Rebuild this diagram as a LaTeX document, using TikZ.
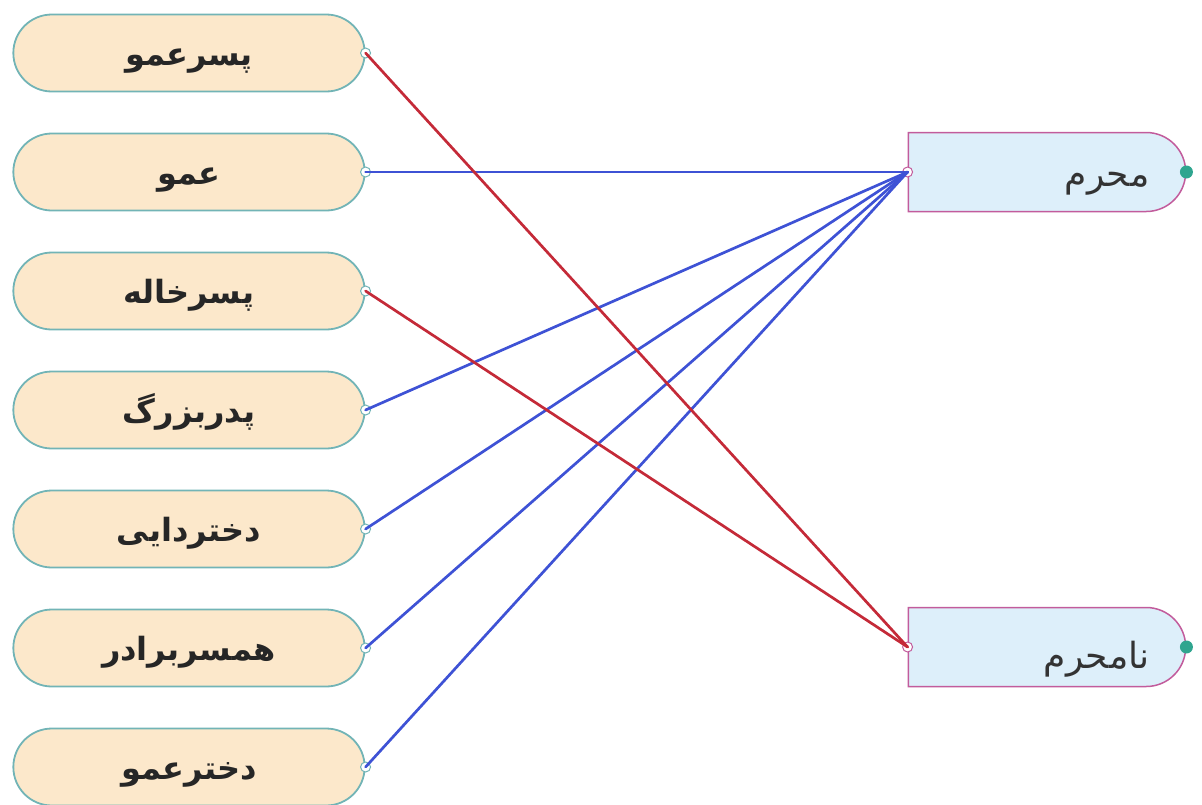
\documentclass[tikz,border=0pt]{standalone}
\usepackage{fontspec}
\usetikzlibrary{shapes.misc}
\TeXXeTstate=1
\newfontfamily\fa[Script=Arabic]{DejaVu Sans}
\definecolor{pillfill}{HTML}{FCE8CB}
\definecolor{pillline}{HTML}{72B4B6}
\definecolor{tagfill}{HTML}{DDEFFA}
\definecolor{tagline}{HTML}{C25C9C}
\definecolor{redlink}{HTML}{C42A38}
\definecolor{bluelink}{HTML}{3E52D5}
\definecolor{knob}{HTML}{2FA58F}
\begin{document}
\begin{tikzpicture}[x=1pt,y=-1pt,
  pill/.style={rounded rectangle, draw=pillline, fill=pillfill, line width=1.8pt,
    minimum width=358pt, minimum height=77pt, text height=24pt, text depth=0pt,
    font=\fa\bfseries\fontsize{32}{36}\selectfont, text=black!85},
  tag/.style={rounded rectangle, rounded rectangle left arc=none, draw=tagline,
    fill=tagfill, line width=1.5pt, minimum width=284pt, minimum height=79pt},
  tagtext/.style={font=\fa\fontsize{36}{40}\selectfont, text=black!80},
  lport/.style={circle, draw=pillline, fill=white, line width=1pt, inner sep=0pt, minimum size=10pt},
  rport/.style={circle, draw=tagline, fill=white, line width=1pt, inner sep=0pt, minimum size=10pt},
  knobdot/.style={circle, fill=knob, inner sep=0pt, minimum size=13pt},
  link/.style={line width=2.7pt, line cap=round},
]
\useasboundingbox (0,0) rectangle (1202,804);

% left column
\node[pill] (a1) at (189,53)  {\beginR پسرعمو\endR};
\node[pill] (a2) at (189,172) {\beginR عمو\endR};
\node[pill] (a3) at (189,291) {\beginR پسرخاله\endR};
\node[pill] (a4) at (189,410) {\beginR پدربزرگ\endR};
\node[pill] (a5) at (189,529) {\beginR دختردایی\endR};
\node[pill] (a6) at (189,648) {\beginR همسربرادر\endR};
\node[pill] (a7) at (189,767) {\beginR دخترعمو\endR};

% right column
\node[tag] (m) at (1047,172) {};
\node[tagtext, anchor=east] (mt) at (1153,184) {\beginR محرم\endR};
\node[tag] (n) at (1047,647) {};
\node[tagtext, anchor=east] (nt) at (1153,659) {\beginR نامحرم\endR};
\node[knobdot] (mk) at (m.east) {};
\node[knobdot] (nk) at (n.east) {};

% connection ports
\foreach \i in {1,...,7}{\node[lport] (p\i) at (a\i.east) {};}
\node[rport] (pm) at (m.west) {};
\node[rport] (pn) at (n.west) {};

% links
\draw[link, bluelink] (p2.center) -- (pm.center);
\draw[link, bluelink] (p4.center) -- (pm.center);
\draw[link, bluelink] (p5.center) -- (pm.center);
\draw[link, bluelink] (p6.center) -- (pm.center);
\draw[link, bluelink] (p7.center) -- (pm.center);
\draw[link, redlink] (p1.center) -- (pn.center);
\draw[link, redlink] (p3.center) -- (pn.center);
\end{tikzpicture}
\end{document}
